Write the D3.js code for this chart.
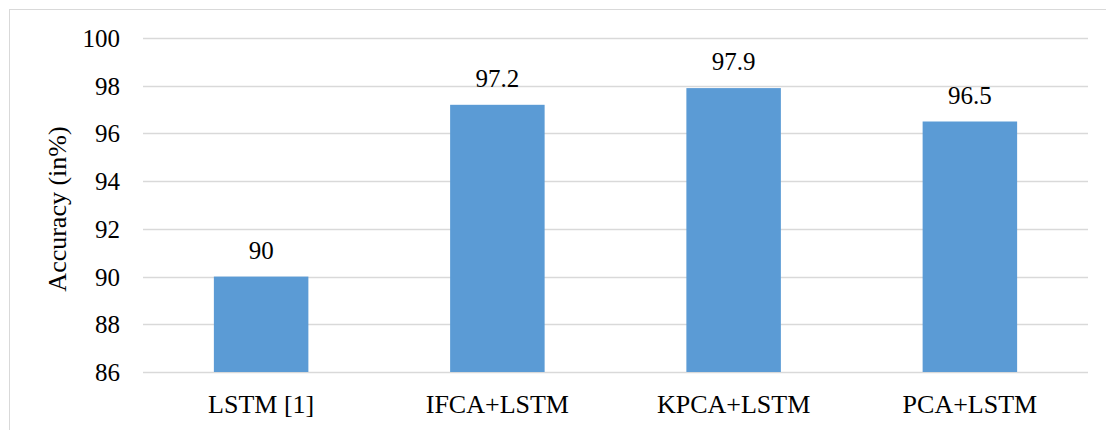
<!DOCTYPE html>
<html>
<head>
<meta charset="utf-8">
<script src="https://cdn.jsdelivr.net/npm/d3@7"></script>
<style>
  html, body { margin: 0; padding: 0; background: #fff; }
  svg { display: block; }
</style>
</head>
<body>
<script>
// Model accuracy comparison
const categories = ["LSTM [1]", "IFCA+LSTM", "KPCA+LSTM", "PCA+LSTM"];
const accuracy = [90, 97.2, 97.9, 96.5];
const yTicks = [86, 88, 90, 92, 94, 96, 98, 100];

const W = 1106, H = 430;
const plot = { left: 143, right: 1088, top: 38, bottom: 372 };
const serif = '"Liberation Serif", "Times New Roman", serif';

const svg = d3.select("body").append("svg")
  .attr("width", W).attr("height", H);

// chart frame
svg.append("rect")
  .attr("x", 9.5).attr("y", 9.5)
  .attr("width", W + 10).attr("height", H + 10)
  .attr("fill", "none").attr("stroke", "#d9d9d9").attr("stroke-width", 1);

const x = d3.scaleBand().domain(categories).range([plot.left, plot.right]).padding(0);
const y = d3.scaleLinear().domain([86, 100]).range([plot.bottom, plot.top]);

// horizontal gridlines
svg.append("g").selectAll("line").data(yTicks).join("line")
  .attr("x1", plot.left).attr("x2", plot.right)
  .attr("y1", d => Math.round(y(d)) + 0.5).attr("y2", d => Math.round(y(d)) + 0.5)
  .attr("stroke", "#d9d9d9").attr("stroke-width", 1.3);

// y axis labels
const yAxis = d3.axisLeft(y).tickValues(yTicks).tickSize(0).tickPadding(0);
const gy = svg.append("g").attr("transform", `translate(${plot.left - 23},0)`).call(yAxis);
gy.select(".domain").remove();
gy.attr("font-family", null).attr("font-size", null);
gy.selectAll("text")
  .style("font-family", serif)
  .style("font-size", "25px").attr("fill", "#000").attr("dy", "0.34em");

// bars
const barW = x.bandwidth() * 0.4;
svg.append("g").selectAll("rect").data(accuracy).join("rect")
  .attr("x", (d, i) => x(categories[i]) + (x.bandwidth() - barW) / 2)
  .attr("width", barW)
  .attr("y", d => y(d))
  .attr("height", d => y(86) - y(d))
  .attr("fill", "#5b9bd5");

// value labels
svg.append("g").selectAll("text").data(accuracy).join("text")
  .attr("x", (d, i) => x(categories[i]) + x.bandwidth() / 2)
  .attr("y", d => y(d) - 18)
  .attr("text-anchor", "middle")
  .style("font-family", serif)
  .style("font-size", "25px")
  .attr("fill", "#000")
  .text(d => d);

// x axis labels
const xAxis = d3.axisBottom(x).tickSize(0).tickPadding(0);
const gx = svg.append("g").attr("transform", `translate(0,${plot.bottom})`).call(xAxis);
gx.select(".domain").remove();
gx.attr("font-family", null).attr("font-size", null);
gx.selectAll("text")
  .style("font-family", serif)
  .style("font-size", "26px").attr("fill", "#000")
  .attr("y", 41).attr("dy", 0);

// y axis title
svg.append("text")
  .attr("transform", `translate(66,${(plot.top + plot.bottom) / 2 + 4}) rotate(-90)`)
  .attr("text-anchor", "middle")
  .style("font-family", serif)
  .style("font-size", "26px")
  .attr("fill", "#000")
  .text("Accuracy (in%)");
</script>
</body>
</html>
